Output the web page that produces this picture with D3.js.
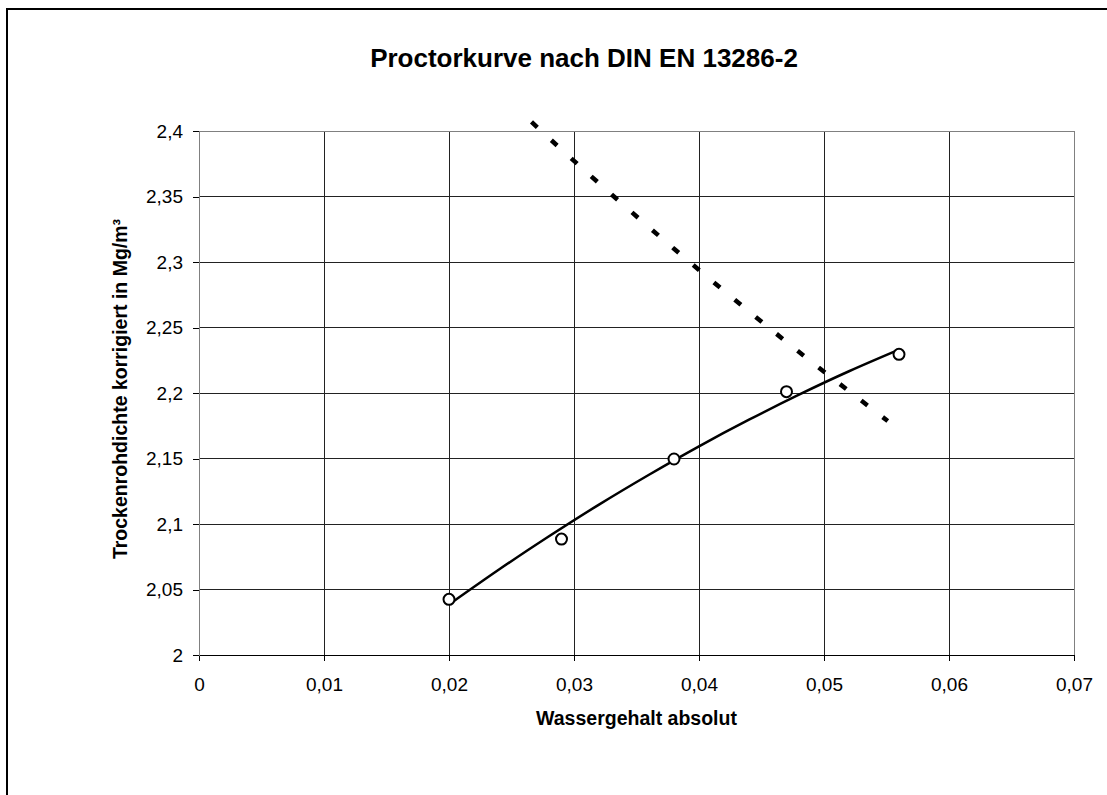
<!DOCTYPE html>
<html>
<head>
<meta charset="utf-8">
<script src="https://cdn.jsdelivr.net/npm/d3@7"></script>
<style>
  body { margin: 0; background: #fff; }
  svg { display: block; font-family: "Liberation Sans", Arial, sans-serif; }
</style>
</head>
<body>
<div id="chart"></div>
<script>
const WIDTH = 1107;
const HEIGHT = 795;

// measured points (Wassergehalt, Trockenrohdichte)
const waterContent = [0.020, 0.029, 0.038, 0.047, 0.056];
const dryDensity = [2.0425, 2.0885, 2.1496, 2.201, 2.2295];

// trend curve
const trendX = [0.020, 0.024, 0.028, 0.032, 0.036, 0.040, 0.044, 0.048, 0.052, 0.056];
const trendY = [2.0385, 2.0652, 2.0906, 2.1148, 2.1376, 2.1593, 2.1796, 2.1987, 2.2166, 2.2331];

// dashed line (Sättigungslinie)
const satX = [0.0266, 0.030, 0.034, 0.038, 0.042, 0.046, 0.050, 0.0551];
const satY = [2.4069, 2.3772, 2.3432, 2.3101, 2.2780, 2.2467, 2.2163, 2.1786];

const xTicks = [0, 0.01, 0.02, 0.03, 0.04, 0.05, 0.06, 0.07];
const yTicks = [2, 2.05, 2.1, 2.15, 2.2, 2.25, 2.3, 2.35, 2.4];

const margin = { left: 199, right: 1074, top: 131, bottom: 655 };

const svg = d3.select("#chart").append("svg")
  .attr("width", WIDTH)
  .attr("height", HEIGHT);

// outer chart frame
svg.append("rect")
  .attr("x", 7).attr("y", 9)
  .attr("width", WIDTH).attr("height", HEIGHT)
  .attr("fill", "#fff")
  .attr("stroke", "#000")
  .attr("stroke-width", 2);

const x = d3.scaleLinear().domain([0, 0.07]).range([margin.left, margin.right]);
const y = d3.scaleLinear().domain([2, 2.4]).range([margin.bottom, margin.top]);

const fmt = (d) => String(+d.toFixed(3)).replace(".", ",");

// grid
const grid = svg.append("g").attr("shape-rendering", "crispEdges");
grid.selectAll(".vg").data(xTicks.slice(1, -1)).enter().append("line")
  .attr("x1", (d) => x(d)).attr("x2", (d) => x(d))
  .attr("y1", margin.top).attr("y2", margin.bottom)
  .attr("stroke", "#222");
grid.selectAll(".hg").data(yTicks.slice(1, -1)).enter().append("line")
  .attr("x1", margin.left).attr("x2", margin.right)
  .attr("y1", (d) => y(d)).attr("y2", (d) => y(d))
  .attr("stroke", "#222");

// plot frame
grid.append("rect")
  .attr("x", margin.left).attr("y", margin.top)
  .attr("width", margin.right - margin.left)
  .attr("height", margin.bottom - margin.top)
  .attr("fill", "none")
  .attr("stroke", "#808080");

// axes
const xAxis = svg.append("g")
  .attr("transform", `translate(0,${margin.bottom})`)
  .call(d3.axisBottom(x).tickValues(xTicks).tickFormat(fmt).tickSize(6).tickPadding(17));
const yAxis = svg.append("g")
  .attr("transform", `translate(${margin.left},0)`)
  .call(d3.axisLeft(y).tickValues(yTicks).tickFormat(fmt).tickSize(6).tickPadding(10));

[xAxis, yAxis].forEach((a) => {
  a.attr("shape-rendering", "crispEdges");
  a.selectAll("text").style("font-size", "19px").attr("fill", "#000")
    .style("font-family", "'Liberation Sans', Arial, sans-serif");
  a.selectAll("line").attr("stroke", "#000");
  a.select(".domain").attr("stroke", "#000");
});
yAxis.select(".domain").attr("stroke", "#808080");

// trend line
const line = d3.line()
  .x((d) => x(d[0]))
  .y((d) => y(d[1]))
  .curve(d3.curveNatural);

svg.append("path")
  .datum(trendX.map((d, i) => [d, trendY[i]]))
  .attr("d", line)
  .attr("fill", "none")
  .attr("stroke", "#000")
  .attr("stroke-width", 2.5);

svg.append("path")
  .datum(satX.map((d, i) => [d, satY[i]]))
  .attr("d", line)
  .attr("fill", "none")
  .attr("stroke", "#000")
  .attr("stroke-width", 4.5)
  .attr("stroke-dasharray", "8,19");

// markers
svg.selectAll(".pt").data(waterContent).enter().append("circle")
  .attr("cx", (d) => x(d))
  .attr("cy", (d, i) => y(dryDensity[i]))
  .attr("r", 5.5)
  .attr("fill", "#fff")
  .attr("stroke", "#000")
  .attr("stroke-width", 2);

// titles
svg.append("text")
  .attr("x", 584).attr("y", 67)
  .attr("text-anchor", "middle")
  .style("font-size", "26px").style("font-weight", "bold")
  .text("Proctorkurve nach DIN EN 13286-2");

svg.append("text")
  .attr("x", (margin.left + margin.right) / 2).attr("y", 725)
  .attr("text-anchor", "middle")
  .style("font-size", "19.5px").style("font-weight", "bold")
  .text("Wassergehalt absolut");

svg.append("text")
  .attr("transform", `translate(127,389) rotate(-90)`)
  .attr("text-anchor", "middle")
  .style("font-size", "19.5px").style("font-weight", "bold")
  .text("Trockenrohdichte korrigiert in Mg/m³");
</script>
</body>
</html>
